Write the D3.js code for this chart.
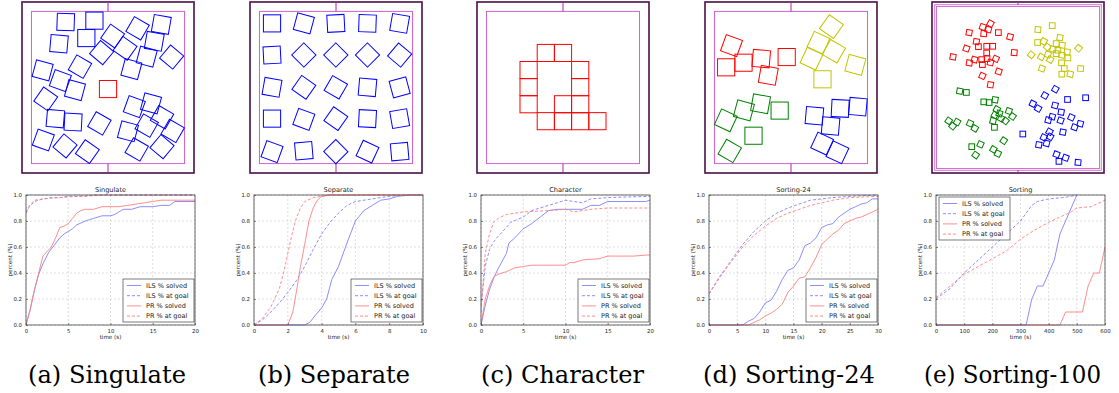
<!DOCTYPE html>
<html>
<head>
<meta charset="utf-8">
<script src="https://cdn.jsdelivr.net/npm/d3@7"></script>
<style>
  body { margin: 0; background: #fff; }
  svg text { font-family: "DejaVu Sans", sans-serif; fill: #222; }
  svg text.caption { font-family: "DejaVu Serif", serif; }
</style>
</head>
<body>
<svg id="fig" width="1119" height="393"></svg>
<script>
// ---- labels ----
const captions = ["(a) Singulate", "(b) Separate", "(c) Character", "(d) Sorting-24", "(e) Sorting-100"];
const titles = ["Singulate", "Separate", "Character", "Sorting-24", "Sorting"];
const xMaxes = [20, 10, 20, 30, 600];
const xTicks = [
  [0, 5, 10, 15, 20],
  [0, 2, 4, 6, 8, 10],
  [0, 5, 10, 15, 20],
  [0, 5, 10, 15, 20, 25, 30],
  [0, 100, 200, 300, 400, 500, 600]
];
const yTicks = [0, 0.2, 0.4, 0.6, 0.8, 1.0];
const seriesLabels = ["ILS % solved", "ILS % at goal", "PR % solved", "PR % at goal"];

// ---- curves: [time, fraction] ----
const singulateIlsSolved = [[0,0],[0.5,0.12],[1,0.27],[1.5,0.39],[2,0.47],[2.7,0.56],[3.3,0.61],[4,0.67],[4.5,0.7],[5,0.72],[5.5,0.74],[6,0.77],[7,0.8],[8,0.82],[9,0.84],[10,0.84],[10.5,0.85],[11.5,0.89],[12.5,0.89],[13.5,0.91],[15,0.91],[16,0.92],[17,0.92],[17.6,0.95],[20,0.95]];
const singulateIlsGoal = [[0,0.86],[0.3,0.9],[0.7,0.93],[1,0.95],[1.5,0.96],[2,0.97],[3,0.98],[4,0.98],[5,0.99],[7,0.99],[8,1],[20,1]];
const singulatePrSolved = [[0,0],[0.5,0.12],[1,0.27],[1.5,0.4],[2,0.53],[3,0.6],[3.5,0.67],[4,0.75],[4.5,0.76],[5,0.78],[5.5,0.82],[6,0.86],[6.5,0.88],[7,0.89],[8,0.89],[9,0.91],[11,0.91],[12,0.92],[13,0.93],[14,0.94],[15,0.95],[16,0.96],[20,0.96]];
const singulatePrGoal = [[0,0.87],[0.3,0.91],[0.7,0.94],[1,0.96],[2,0.97],[3,0.975],[4,0.98],[6,0.99],[10,1],[20,1]];

const separateIlsSolved = [[0,0],[3,0],[3.3,0.02],[3.6,0.07],[4,0.13],[4.3,0.2],[4.6,0.35],[5,0.45],[5.5,0.63],[6,0.8],[6.5,0.88],[7,0.92],[7.5,0.96],[8,0.97],[8.5,0.99],[9.3,1],[10,1]];
const separateIlsGoal = [[0,0],[0.5,0.04],[1,0.1],[1.5,0.17],[2,0.25],[2.5,0.34],[3,0.45],[3.5,0.58],[4,0.7],[4.5,0.79],[5,0.86],[5.5,0.92],[6,0.95],[7,0.97],[8,0.99],[9,1],[10,1]];
const separatePrSolved = [[0,0],[2,0],[2.3,0.1],[2.5,0.25],[2.75,0.45],[3,0.62],[3.25,0.8],[3.5,0.9],[3.75,0.96],[4,0.99],[4.5,1],[10,1]];
const separatePrGoal = [[0,0],[0.5,0.05],[1,0.14],[1.5,0.28],[1.75,0.4],[2,0.55],[2.25,0.7],[2.5,0.82],[2.75,0.9],[3,0.95],[3.5,0.98],[4,0.99],[4.5,1],[10,1]];

const characterIlsSolved = [[0,0],[0.5,0.15],[1,0.27],[1.5,0.36],[2,0.43],[3,0.55],[3.3,0.63],[4,0.67],[5,0.74],[6,0.78],[7,0.83],[8,0.88],[9,0.89],[12,0.89],[13,0.92],[14,0.92],[15,0.95],[19.5,0.95],[20,0.96]];
const characterIlsGoal = [[0,0.15],[0.5,0.45],[1,0.58],[1.5,0.64],[2,0.68],[3,0.75],[3.5,0.79],[5,0.83],[6,0.88],[7,0.9],[8,0.92],[9,0.94],[10,0.96],[11,0.95],[12,0.94],[13,0.97],[15,0.98],[20,0.99]];
const characterPrSolved = [[0,0],[0.5,0.2],[1,0.3],[1.5,0.37],[2,0.39],[3,0.41],[4,0.44],[5,0.45],[6,0.46],[10,0.46],[10.5,0.48],[11,0.48],[12,0.5],[14,0.51],[15,0.53],[18,0.53],[20,0.54]];
const characterPrGoal = [[0,0.1],[0.5,0.55],[1,0.7],[1.5,0.79],[2,0.82],[3,0.85],[4,0.86],[5,0.87],[8,0.88],[10,0.89],[11,0.87],[12,0.88],[13,0.89],[15,0.9],[20,0.9]];

const sorting24IlsSolved = [[0,0],[6,0],[7,0.03],[8,0.05],[9,0.1],[10,0.17],[11,0.19],[12,0.26],[13,0.35],[14,0.42],[15,0.44],[16,0.5],[17,0.61],[18,0.63],[19,0.67],[20,0.75],[21,0.77],[22,0.78],[23,0.83],[24,0.86],[25,0.89],[26,0.91],[27,0.93],[28,0.94],[29,0.97],[30,0.97]];
const sorting24IlsGoal = [[0,0.24],[2,0.38],[4,0.5],[6,0.62],[8,0.72],[10,0.8],[12,0.86],[14,0.9],[16,0.93],[18,0.96],[20,0.97],[22,0.98],[25,0.99],[30,1]];
const sorting24PrSolved = [[0,0],[7,0],[8,0.02],[9,0.04],[10,0.07],[11,0.09],[12,0.12],[13,0.16],[14,0.25],[15,0.3],[16,0.36],[17,0.37],[18,0.44],[19,0.52],[20,0.62],[21,0.66],[22,0.7],[23,0.73],[24,0.78],[25,0.8],[26,0.82],[27,0.83],[28,0.85],[29,0.87],[30,0.89]];
const sorting24PrGoal = [[0,0.24],[2,0.37],[4,0.49],[6,0.6],[8,0.69],[10,0.76],[12,0.82],[14,0.86],[16,0.89],[18,0.92],[20,0.94],[22,0.96],[25,0.98],[30,0.99]];

const sortingIlsSolved = [[0,0],[320,0],[340,0.2],[360,0.3],[380,0.3],[400,0.4],[420,0.5],[440,0.7],[460,0.8],[480,0.9],[500,1]];
const sortingIlsGoal = [[0,0.2],[50,0.28],[100,0.4],[150,0.5],[200,0.6],[250,0.7],[300,0.8],[320,0.86],[340,0.92],[360,0.95],[400,0.97],[450,0.98],[480,0.99],[500,1]];
const sortingPrSolved = [[0,0],[440,0],[460,0.1],[520,0.1],[540,0.3],[560,0.4],[580,0.4],[600,0.6]];
const sortingPrGoal = [[0,0.21],[50,0.3],[100,0.39],[150,0.45],[200,0.51],[250,0.57],[300,0.66],[350,0.73],[400,0.79],[450,0.84],[480,0.87],[500,0.9],[550,0.91],[600,0.96]];

// ---- scenes: [x, y, angle] in frame units (0..100) ----
const singulateBlue = [[25.4,11.7,2],[42.1,10.9,0],[21.5,24.4,5],[37.4,21.1,0],[52.7,19.9,35],[46.3,29.6,40],[59.9,27.1,35],[67.2,15.4,30],[81,13.1,10],[76.9,23,10],[72.5,32,15],[87,32.2,40],[63.6,39.2,15],[12,40,15],[33.7,37.8,30],[22.3,46,20],[30.8,51.5,15],[13.8,56.7,35],[19.4,68.2,5],[29.7,70.2,3],[45,71,30],[12.4,80.7,20],[25,84.2,40],[38,87.5,35],[65.3,61.2,20],[75,59.3,15],[81.4,67.4,30],[72.5,72.3,30],[61.6,75.6,15],[87.6,75.4,30],[66.7,86.2,30],[81.4,84.6,40]];
const singulateRed = [[50,50.9,0]];
const separateBlue = [[12.8,12.5,0],[31.3,12.5,15],[49.9,12.5,-3],[68.3,12.5,2],[87,12.5,10],[12.8,31,-3],[31.3,31,45],[49.9,31,45],[68.3,31,45],[87,31,40],[12.8,49.9,10],[31.3,49.9,35],[49.9,49.9,30],[68.3,49.9,5],[87,49.9,-15],[12.8,68.2,0],[31.3,68.6,20],[49.9,68.2,35],[68.3,68.2,3],[87,68.2,-10],[12.8,87.5,20],[31.3,87,-5],[49.9,87.5,45],[68.3,87.5,25],[87,87.5,-5]];
const characterRed = [[40,29.8,0],[50,29.8,0],[30,39.8,0],[60,39.8,0],[30,49.8,0],[60,49.8,0],[30,59.8,0],[50,59.8,0],[60,59.8,0],[40,69.7,0],[50,69.7,0],[60,69.7,0],[70,69.7,0]];
const sorting24Red = [[15.4,25.5,20],[12.3,38.2,0],[22.4,35.5,0],[32.7,33.1,5],[36.8,42.9,10],[47.5,32.2,0]];
const sorting24Yellow = [[73.5,14.4,35],[66,23.8,25],[74.9,28.8,30],[61.9,33.1,25],[87.4,36.8,15],[68.3,45.2,0]];
const sorting24Green = [[12.1,69.2,25],[22.6,63.4,15],[32.3,59.5,10],[43.4,63.5,0],[28.2,78.2,0],[14.4,87.1,30]];
const sorting24Blue = [[63.6,66.5,5],[78.6,62.2,3],[88.9,61.2,5],[73,72.5,5],[68.1,82.8,25],[77,87.9,25]];
const sorting100Red = [[21.6,17.9,10],[29.5,14.6,20],[34,12.6,30],[32.8,16.1,15],[30.1,18.5,5],[38.6,17.9,0],[45.4,20.4,15],[25.8,23.2,10],[27,26.1,0],[31.8,25.9,0],[35.3,25.9,0],[20,27.2,20],[31.8,29.8,0],[47.8,29.6,5],[12.2,32.1,10],[24.7,33.7,15],[28.9,33.7,0],[32,33.1,0],[37.1,33.3,25],[21.7,35.6,10],[29.3,36.6,0],[34,35.4,15],[38.8,40.7,20],[29.3,43.2,25],[34,48.4,10]];
const sorting100Yellow = [[61.6,16.1,5],[69.9,13.8,0],[74.4,20.8,10],[61.4,23.7,0],[65,23,30],[72.2,24.3,0],[75.7,25.3,5],[67,26.3,40],[70.3,27.6,15],[85.2,27,40],[57.7,30.9,40],[63.5,32.1,30],[67.4,30.7,20],[72.2,30.2,0],[75.5,31.1,10],[78.6,29.2,5],[68.7,33.7,30],[79,32.7,0],[75.3,35.6,0],[63.9,38.9,20],[76.9,38.9,0],[86.4,38.9,5],[75.5,42.2,0],[80.4,42.2,15],[73.2,28.2,0]];
const sorting100Green = [[16.1,52.1,10],[20,52.9,0],[30.1,58.4,0],[33.2,58.8,0],[36.7,57.2,10],[37.7,62.8,30],[44.7,63.8,20],[36.5,66.1,30],[46.8,66.9,35],[40.2,68.1,30],[42.7,69.5,40],[35.5,69.5,15],[36.3,73.3,0],[9.7,69.5,35],[14.6,70.2,30],[12,72.6,40],[22.1,71,25],[24.9,73.9,30],[23.1,84.6,0],[28.2,83.3,25],[25.4,89.5,35],[35.7,86.2,30],[38.3,88.7,25],[41.7,81.1,35],[39.2,65.2,20]];
const sorting100Blue = [[71.7,51,30],[65.6,54.7,30],[78.8,57,0],[89.3,56,0],[58.6,59.5,25],[61.7,62.3,30],[71.5,60.5,15],[75.1,64.4,10],[69.9,67.1,15],[67.6,69.1,15],[74.8,69.3,20],[81,67.5,25],[82.9,73.2,20],[86.2,71.2,15],[52.8,77.2,0],[68.3,75.9,30],[76.1,76.1,10],[65,79.2,25],[68.7,78.8,30],[62.1,83.5,10],[66.6,82.7,15],[72.4,89.1,20],[77.7,91.1,20],[73.8,93.2,0],[84.9,93.8,5]];

// ---- layout ----
const svg = d3.select("#fig");
const sceneLeft = [22, 250, 477, 705, 932];
const sceneTop = 2, sceneW = 172, sceneH = 171;
const plotLeft = [26, 254, 481, 709, 936];
const plotTop = 195, plotW = 169, plotH = 130;
// caption start x and rendered width
const captionSpan = [[28, 158], [258, 152], [481, 163], [703, 172], [924, 177]];

const blue = "#0000ff", red = "#ff0000", green = "#008000", yellow = "#c4c400";
const lineStyles = [
  { color: "#8080ff", dash: null },
  { color: "#8080ff", dash: "3,2" },
  { color: "#ff8080", dash: null },
  { color: "#ff8080", dash: "3,2" }
];

function drawScene(i, groups, compact) {
  const x = d3.scaleLinear().domain([0, 100]).range([sceneLeft[i], sceneLeft[i] + sceneW]);
  const y = d3.scaleLinear().domain([0, 100]).range([sceneTop, sceneTop + sceneH]);
  const g = svg.append("g");

  // outer frame
  g.append("rect")
    .attr("x", x(0)).attr("y", y(0))
    .attr("width", x(100) - x(0)).attr("height", y(100) - y(0))
    .attr("fill", "none").attr("stroke", "#4a1047").attr("stroke-width", 1.6);

  if (compact) {
    [1.6, 2.6].forEach(m => g.append("rect")
      .attr("x", x(m)).attr("y", y(m))
      .attr("width", x(100 - m) - x(m)).attr("height", y(100 - m) - y(m))
      .attr("fill", "none").attr("stroke", "#d060d0").attr("stroke-width", 0.9));
    g.selectAll(null).data([[0, 1.6], [98.4, 100]]).join("line")
      .attr("x1", x(50)).attr("x2", x(50))
      .attr("y1", d => y(d[0])).attr("y2", d => y(d[1]))
      .attr("stroke", "#b020b0").attr("stroke-width", 1);
  } else {
    const m = 5.5;
    g.append("rect")
      .attr("x", x(m)).attr("y", y(m))
      .attr("width", x(100 - m) - x(m)).attr("height", y(100 - m) - y(m))
      .attr("fill", "none").attr("stroke", "#d060d0").attr("stroke-width", 1);
    g.selectAll(null).data([[0, m], [100 - m, 100]]).join("line")
      .attr("x1", x(50)).attr("x2", x(50))
      .attr("y1", d => y(d[0])).attr("y2", d => y(d[1]))
      .attr("stroke", "#b020b0").attr("stroke-width", 1);
  }

  groups.forEach(([data, color, size]) => {
    const w = x(size) - x(0), h = y(size) - y(0);
    g.selectAll(null).data(data).join("rect")
      .attr("x", -w / 2).attr("y", -h / 2)
      .attr("width", w).attr("height", h)
      .attr("transform", d => `translate(${x(d[0])},${y(d[1])}) rotate(${d[2]})`)
      .attr("fill", "none").attr("stroke", color).attr("stroke-width", 1);
  });
}

function drawPlot(i, series, legendTopLeft) {
  const x = d3.scaleLinear().domain([0, xMaxes[i]]).range([plotLeft[i], plotLeft[i] + plotW]);
  const y = d3.scaleLinear().domain([0, 1]).range([plotTop + plotH, plotTop]);
  const g = svg.append("g");

  // grid
  g.append("g").selectAll("line").data(xTicks[i]).join("line")
    .attr("x1", d => x(d)).attr("x2", d => x(d))
    .attr("y1", y(0)).attr("y2", y(1))
    .attr("stroke", "#c8c8c8").attr("stroke-width", 0.6).attr("stroke-dasharray", "2,2");
  g.append("g").selectAll("line").data(yTicks).join("line")
    .attr("x1", x(0)).attr("x2", x(xMaxes[i]))
    .attr("y1", d => y(d)).attr("y2", d => y(d))
    .attr("stroke", "#c8c8c8").attr("stroke-width", 0.6).attr("stroke-dasharray", "2,2");

  // curves
  const clipId = "clip" + i;
  svg.append("clipPath").attr("id", clipId).append("rect")
    .attr("x", x(0)).attr("y", y(1) - 1).attr("width", plotW).attr("height", plotH + 2);
  const line = d3.line().x(d => x(d[0])).y(d => y(d[1]));
  g.append("g").attr("clip-path", `url(#${clipId})`)
    .selectAll("path").data(series).join("path")
    .attr("d", d => line(d))
    .attr("fill", "none")
    .attr("stroke", (d, k) => lineStyles[k].color)
    .attr("stroke-width", 0.9)
    .attr("stroke-dasharray", (d, k) => lineStyles[k].dash);

  // axes
  const xAxis = g.append("g").attr("transform", `translate(0,${y(0)})`)
    .call(d3.axisBottom(x).tickValues(xTicks[i]).tickFormat(d3.format("d")).tickSize(-2).tickPadding(4));
  const yAxis = g.append("g").attr("transform", `translate(${x(0)},0)`)
    .call(d3.axisLeft(y).tickValues(yTicks).tickFormat(d3.format(".1f")).tickSize(-2).tickPadding(4));
  [xAxis, yAxis].forEach(a => {
    a.select(".domain").remove();
    a.selectAll(".tick line").attr("stroke", "#444").attr("stroke-width", 0.6);
    a.selectAll("text").style("font-size", "5.4px").style("fill", "#222");
  });

  g.append("rect")
    .attr("x", x(0)).attr("y", y(1)).attr("width", plotW).attr("height", plotH)
    .attr("fill", "none").attr("stroke", "#444").attr("stroke-width", 0.8);

  g.append("text").attr("x", x(xMaxes[i] / 2)).attr("y", plotTop - 3)
    .attr("text-anchor", "middle").style("font-size", "6.6px").text(titles[i]);
  g.append("text").attr("x", x(xMaxes[i] / 2)).attr("y", 338.5)
    .attr("text-anchor", "middle").style("font-size", "5.6px").text("time (s)");
  g.append("text")
    .attr("transform", `translate(${x(0) - 14},${y(0.5)}) rotate(-90)`)
    .attr("text-anchor", "middle").style("font-size", "5.6px").text("percent (%)");

  // legend
  const lw = 71, lh = 43;
  const lx = legendTopLeft ? x(0) + 3 : x(xMaxes[i]) - lw - 1;
  const ly = legendTopLeft ? y(1) + 2 : y(0) - lh - 3;
  const lg = g.append("g").attr("transform", `translate(${lx},${ly})`);
  lg.append("rect").attr("width", lw).attr("height", lh)
    .attr("fill", "#fff").attr("stroke", "#444").attr("stroke-width", 0.7);
  seriesLabels.forEach((label, k) => {
    const ry = 6.5 + k * 10.2;
    lg.append("line").attr("x1", 4).attr("x2", 18).attr("y1", ry).attr("y2", ry)
      .attr("stroke", lineStyles[k].color).attr("stroke-width", 0.9)
      .attr("stroke-dasharray", lineStyles[k].dash);
    lg.append("text").attr("x", 23).attr("y", ry + 2.2)
      .style("font-size", "6.5px").text(label);
  });
}

// ---- draw ----
drawScene(0, [[singulateBlue, blue, 10], [singulateRed, red, 10]], false);
drawScene(1, [[separateBlue, blue, 10]], false);
drawScene(2, [[characterRed, red, 10]], false);
drawScene(3, [[sorting24Red, red, 10], [sorting24Yellow, yellow, 10], [sorting24Green, green, 10], [sorting24Blue, blue, 10]], false);
drawScene(4, [[sorting100Red, red, 3.3], [sorting100Yellow, yellow, 3.3], [sorting100Green, green, 3.3], [sorting100Blue, blue, 3.3]], true);

drawPlot(0, [singulateIlsSolved, singulateIlsGoal, singulatePrSolved, singulatePrGoal], false);
drawPlot(1, [separateIlsSolved, separateIlsGoal, separatePrSolved, separatePrGoal], false);
drawPlot(2, [characterIlsSolved, characterIlsGoal, characterPrSolved, characterPrGoal], false);
drawPlot(3, [sorting24IlsSolved, sorting24IlsGoal, sorting24PrSolved, sorting24PrGoal], false);
drawPlot(4, [sortingIlsSolved, sortingIlsGoal, sortingPrSolved, sortingPrGoal], true);

svg.append("g").selectAll("text").data(captions).join("text")
  .attr("class", "caption")
  .attr("x", (d, i) => captionSpan[i][0])
  .attr("y", 383)
  .attr("textLength", (d, i) => captionSpan[i][1])
  .attr("lengthAdjust", "spacingAndGlyphs")
  .style("font-size", "25px")
  .style("fill", "#000")
  .text(d => d);
</script>
</body>
</html>
